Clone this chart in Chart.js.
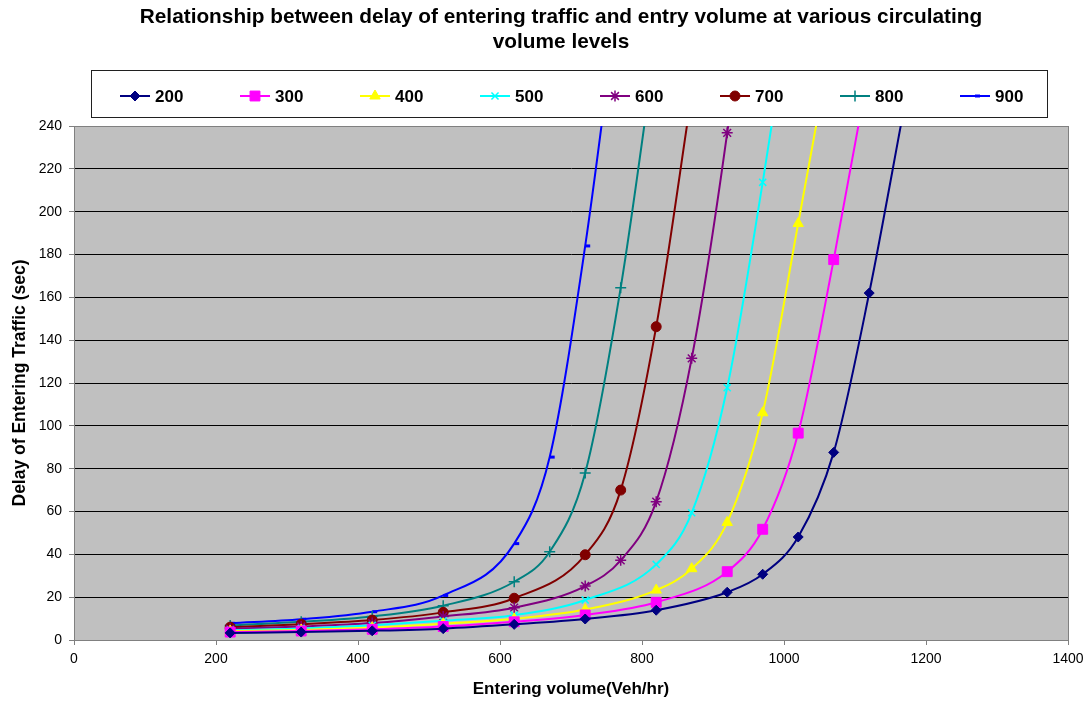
<!DOCTYPE html>
<html>
<head>
<meta charset="utf-8">
<script src="https://cdn.jsdelivr.net/npm/chart.js@4.4.0/dist/chart.umd.min.js"></script>
<style>
  html, body { margin: 0; padding: 0; background: #ffffff; }
  #wrap { width: 1090px; height: 702px; }
</style>
</head>
<body>
<div id="wrap"><canvas id="c" width="1090" height="702"></canvas></div>
<script>
// Circulating volume levels (veh/hr), one curve each
const levels = ['200', '300', '400', '500', '600', '700', '800', '900'];

// Entering volume (veh/hr) and delay (sec) for each circulating level
const vol200   = [220, 320, 420, 520, 620, 720, 820, 920, 970, 1020, 1070, 1120, 1170];
const delay200 = [3.3, 3.7, 4.3, 5.3, 7.3, 9.8, 13.9, 22.3, 30.7, 48.1, 87.6, 162.0, 250];

const vol300   = [220, 320, 420, 520, 620, 720, 820, 920, 970, 1020, 1070, 1120];
const delay300 = [3.7, 4.2, 5.0, 6.3, 8.5, 11.7, 17.6, 31.9, 51.7, 96.6, 177.6, 268];

const vol400   = [220, 320, 420, 520, 620, 720, 820, 870, 920, 970, 1020, 1070];
const delay400 = [4.2, 4.7, 5.8, 7.6, 9.9, 14.2, 23.3, 33.3, 54.9, 106.1, 194.5, 285];

const vol500   = [220, 320, 420, 520, 620, 720, 820, 870, 920, 970, 1020];
const delay500 = [4.6, 5.4, 6.9, 9.0, 11.6, 18.7, 35.3, 59.4, 117.8, 213.7, 320];

const vol600   = [220, 320, 420, 520, 620, 720, 770, 820, 870, 920, 970];
const delay600 = [5.2, 6.3, 7.9, 11.0, 15.1, 25.2, 37.2, 64.6, 131.5, 236.8, 370];

const vol700   = [220, 320, 420, 520, 620, 720, 770, 820, 870];
const delay700 = [6.0, 7.4, 9.3, 12.9, 19.5, 39.8, 70.0, 146.3, 255];

const vol800   = [220, 320, 420, 520, 620, 670, 720, 770, 820];
const delay800 = [6.8, 8.5, 11.0, 16.0, 27.2, 41.2, 78.0, 164.5, 280];

const vol900   = [220, 320, 420, 520, 620, 670, 720, 770];
const delay900 = [7.8, 9.7, 13.2, 20.8, 45.0, 85.4, 184.0, 310];

// Axis ranges and tick steps
const xTicks = { min: 0, max: 1400, step: 200 };
const yTicks = { min: 0, max: 240, step: 20 };

const FONT = "'Liberation Sans', Arial, Helvetica, sans-serif";
Chart.defaults.font.family = FONT;
Chart.defaults.color = '#000000';

const seriesStyle = [
  { color: '#000080', marker: 'rectRot',  radius: 5,   bw: 1 },
  { color: '#FF00FF', marker: 'rect',     radius: 7,   bw: 1 },
  { color: '#FFFF00', marker: 'triangle', radius: 6,   bw: 1 },
  { color: '#00FFFF', marker: 'crossRot', radius: 5,   bw: 1.5 },
  { color: '#800080', marker: 'star',     radius: 5.5, bw: 1.5 },
  { color: '#800000', marker: 'circle',   radius: 5,   bw: 1 },
  { color: '#008080', marker: 'cross',    radius: 5.5, bw: 1.5 },
  { color: '#0000FF', marker: 'dash',     radius: 5,   bw: 3 }
];

const volumes = [vol200, vol300, vol400, vol500, vol600, vol700, vol800, vol900];
const delays  = [delay200, delay300, delay400, delay500, delay600, delay700, delay800, delay900];

const datasets = levels.map((name, i) => ({
  label: name,
  data: volumes[i].map((v, j) => ({ x: v, y: delays[i][j] })),
  borderColor: seriesStyle[i].color,
  backgroundColor: seriesStyle[i].color,
  pointStyle: seriesStyle[i].marker,
  pointRadius: seriesStyle[i].radius,
  pointBorderWidth: seriesStyle[i].bw,
  pointBorderColor: seriesStyle[i].color,
  pointBackgroundColor: seriesStyle[i].color,
  borderWidth: 2,
  showLine: true,
  fill: false,
  cubicInterpolationMode: 'monotone'
}));

// Grey plot area with a grey frame
const plotArea = {
  id: 'plotArea',
  beforeDraw(chart) {
    const { ctx, chartArea: a } = chart;
    ctx.save();
    ctx.fillStyle = '#C0C0C0';
    ctx.fillRect(a.left, a.top, a.right - a.left, a.bottom - a.top);
    ctx.restore();
  },
  beforeDatasetsDraw(chart) {
    const { ctx, chartArea: a } = chart;
    ctx.save();
    ctx.strokeStyle = '#808080';
    ctx.lineWidth = 1;
    ctx.strokeRect(Math.round(a.left) + 0.5, Math.round(a.top) + 0.5,
                   Math.round(a.right - a.left), Math.round(a.bottom - a.top));
    ctx.restore();
  }
};

// Two-line heading and the boxed legend above the plot
const headingAndKey = {
  id: 'headingAndKey',
  afterDraw(chart) {
    const ctx = chart.ctx;
    ctx.save();
    ctx.fillStyle = '#000';
    ctx.textAlign = 'center';
    ctx.textBaseline = 'middle';
    ctx.font = 'bold 20.8px ' + FONT;
    ctx.fillText('Relationship between delay of entering traffic and entry volume at various circulating', 561, 17);
    ctx.fillText('volume levels', 561, 42);

    ctx.strokeStyle = '#202020';
    ctx.lineWidth = 1;
    ctx.strokeRect(91.5, 70.5, 956, 47);

    const y = 96;
    chart.data.datasets.forEach((ds, i) => {
      const cx = 135 + 120 * i;
      const st = seriesStyle[i];
      ctx.strokeStyle = st.color;
      ctx.lineWidth = 2;
      ctx.beginPath();
      ctx.moveTo(cx - 15, y);
      ctx.lineTo(cx + 15, y);
      ctx.stroke();
      ctx.fillStyle = st.color;
      ctx.strokeStyle = st.color;
      ctx.lineWidth = st.bw;
      Chart.helpers.drawPoint(ctx, { pointStyle: st.marker, radius: st.radius, rotation: 0, borderWidth: st.bw }, cx, y);
      ctx.fillStyle = '#000';
      ctx.textAlign = 'left';
      ctx.font = 'bold 17px ' + FONT;
      ctx.fillText(ds.label, cx + 20, y + 1);
    });
    ctx.restore();
  }
};

new Chart(document.getElementById('c'), {
  type: 'line',
  data: { datasets },
  plugins: [plotArea, headingAndKey],
  options: {
    responsive: false,
    animation: false,
    events: [],
    layout: { padding: { top: 126, right: 22, left: 0, bottom: 0 } },
    plugins: {
      legend: { display: false },
      title: { display: false },
      tooltip: { enabled: false }
    },
    scales: {
      x: {
        type: 'linear',
        min: xTicks.min,
        max: xTicks.max,
        ticks: { stepSize: xTicks.step, color: '#000', font: { size: 14 }, padding: 6, maxRotation: 0,
                 callback: (v) => String(v) },
        grid: { drawOnChartArea: false, drawTicks: true, tickLength: 5, tickColor: '#808080' },
        border: { color: '#808080', width: 1 },
        title: { display: true, text: 'Entering volume(Veh/hr)', color: '#000',
                 font: { size: 17, weight: 'bold' }, padding: { top: 0, bottom: 2 } },
        afterFit(s) { s.height = 62; }
      },
      y: {
        type: 'linear',
        min: yTicks.min,
        max: yTicks.max,
        ticks: { stepSize: yTicks.step, color: '#000', font: { size: 14 }, padding: 7,
                 callback: (v) => String(v) },
        grid: {
          color: (c) => (c.tick && (c.tick.value === yTicks.min || c.tick.value === yTicks.max)) ? 'rgba(0,0,0,0)' : '#000000',
          tickColor: '#808080',
          tickLength: 5,
          lineWidth: 1
        },
        border: { color: '#808080', width: 1 },
        title: { display: true, text: 'Delay of Entering Traffic (sec)', color: '#000',
                 font: { size: 17.5, weight: 'bold' }, padding: { top: 10, bottom: 0 } },
        afterFit(s) { s.width = 74; }
      }
    }
  }
});
</script>
</body>
</html>
